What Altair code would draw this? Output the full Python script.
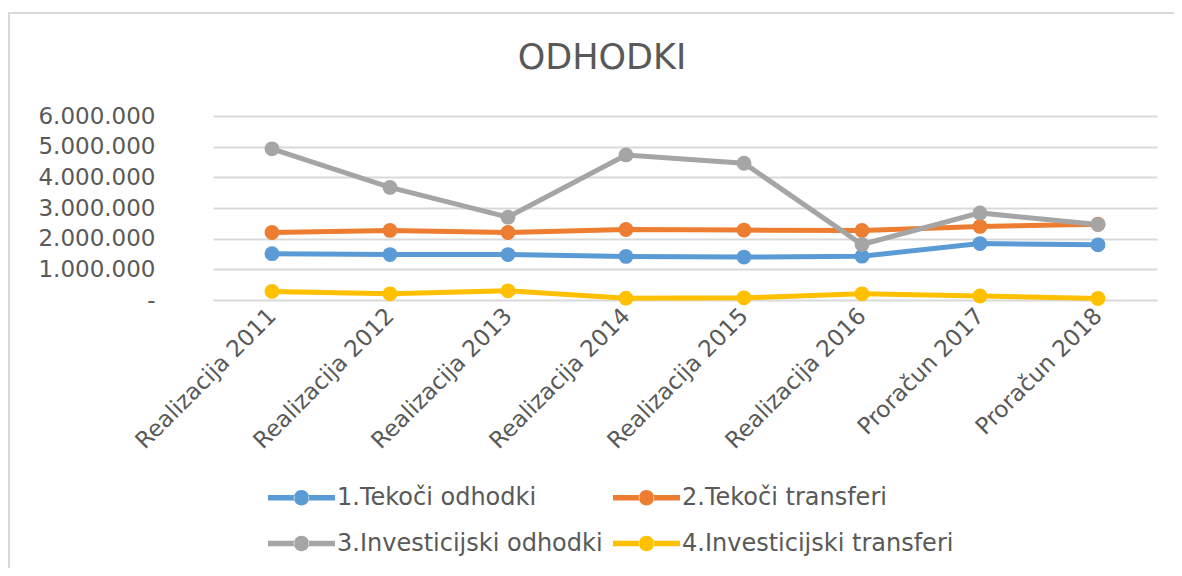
import altair as alt
import pandas as pd

categories = ["Realizacija 2011", "Realizacija  2012", "Realizacija 2013", "Realizacija 2014",
              "Realizacija 2015", "Realizacija 2016", "Proračun 2017", "Proračun 2018"]
series_names = ["1.Tekoči odhodki", "2.Tekoči transferi", "3.Investicijski odhodki", "4.Investicijski transferi"]
tekoci_odhodki = [1510000, 1480000, 1480000, 1420000, 1400000, 1430000, 1840000, 1800000]
tekoci_transferi = [2200000, 2270000, 2200000, 2300000, 2280000, 2270000, 2400000, 2470000]
investicijski_odhodki = [4930000, 3670000, 2700000, 4730000, 4460000, 1810000, 2840000, 2460000]
investicijski_transferi = [280000, 200000, 300000, 60000, 70000, 200000, 130000, 50000]
colors = ["#5B9BD5", "#ED7D31", "#A5A5A5", "#FFC000"]
y_ticks = [0, 1000000, 2000000, 3000000, 4000000, 5000000, 6000000]
chart_title = "ODHODKI"

rows = []
for name, vals in zip(series_names, [tekoci_odhodki, tekoci_transferi, investicijski_odhodki, investicijski_transferi]):
    for i, (c, v) in enumerate(zip(categories, vals)):
        rows.append({"cat": c, "series": name, "value": v, "idx": i})
df = pd.DataFrame(rows)

TXT = "#595959"
FONT = "DejaVu Sans"

x_enc = alt.X("cat:N", sort=categories, scale=alt.Scale(paddingInner=0, paddingOuter=0.5),
              axis=alt.Axis(title=None, labelAngle=-45, labelAlign="right", labelBaseline="middle",
                            labelFontSize=23, labelColor=TXT, labelFont=FONT, labelPadding=12, labelLimit=400,
                            domain=True, domainColor="#D9D9D9", ticks=False, grid=False))
y_enc = alt.Y("value:Q", scale=alt.Scale(domain=[0, 6000000], nice=False),
              axis=alt.Axis(title=None, values=y_ticks, labelFontSize=23, labelColor=TXT, labelFont=FONT,
                            labelPadding=58, domain=False, ticks=False, gridColor="#D9D9D9", gridWidth=2,
                            labelExpr="datum.value == 0 ? '-' : replace(format(datum.value, ',d'), regexp(',', 'g'), '.')"))

sym = ("M-1,-0.08 L-0.21,-0.08 L-0.21,0.08 L-1,0.08 Z "
       "M0.21,-0.08 L1,-0.08 L1,0.08 L0.21,0.08 Z "
       "M-0.23,0 A0.23,0.23 0 1,0 0.23,0 A0.23,0.23 0 1,0 -0.23,0 Z")

legend = alt.Legend(title=None, orient="none", legendX=55, legendY=348, columns=2, direction="horizontal",
                    symbolType=sym, symbolSize=4489, symbolStrokeWidth=0,
                    labelFontSize=24, labelColor=TXT, labelFont=FONT, labelOffset=2,
                    columnPadding=10, rowPadding=-17, labelLimit=400)
color_enc = alt.Color("series:N", scale=alt.Scale(domain=series_names, range=colors), legend=legend)

base = alt.Chart(df)
lines = base.mark_line(strokeWidth=5).encode(x=x_enc, y=y_enc, color=color_enc)
points = base.mark_point(filled=True, size=220, opacity=1).encode(x=x_enc, y=y_enc, color=color_enc)
one = pd.DataFrame({"k": [0]})
frame = alt.Chart(one).mark_rect(fill=None, stroke="#D9D9D9", strokeWidth=2).encode(
    x=alt.value(-204), x2=alt.value(1200), y=alt.value(-103), y2=alt.value(600)
)
title = alt.Chart(one).mark_text(fontSize=35, font=FONT, color=TXT, align="center", baseline="alphabetic").encode(
    x=alt.value(389), y=alt.value(-47), text=alt.value(chart_title)
)

chart = alt.layer(frame, lines, points, title).properties(
    width=944, height=184,
    padding={"left": 205, "top": 108, "right": 17, "bottom": 268},
    autosize=alt.AutoSizeParams(type="none"),
).configure_view(stroke=None)

chart.save("out.html", embed_options={"renderer": "svg", "actions": False})
